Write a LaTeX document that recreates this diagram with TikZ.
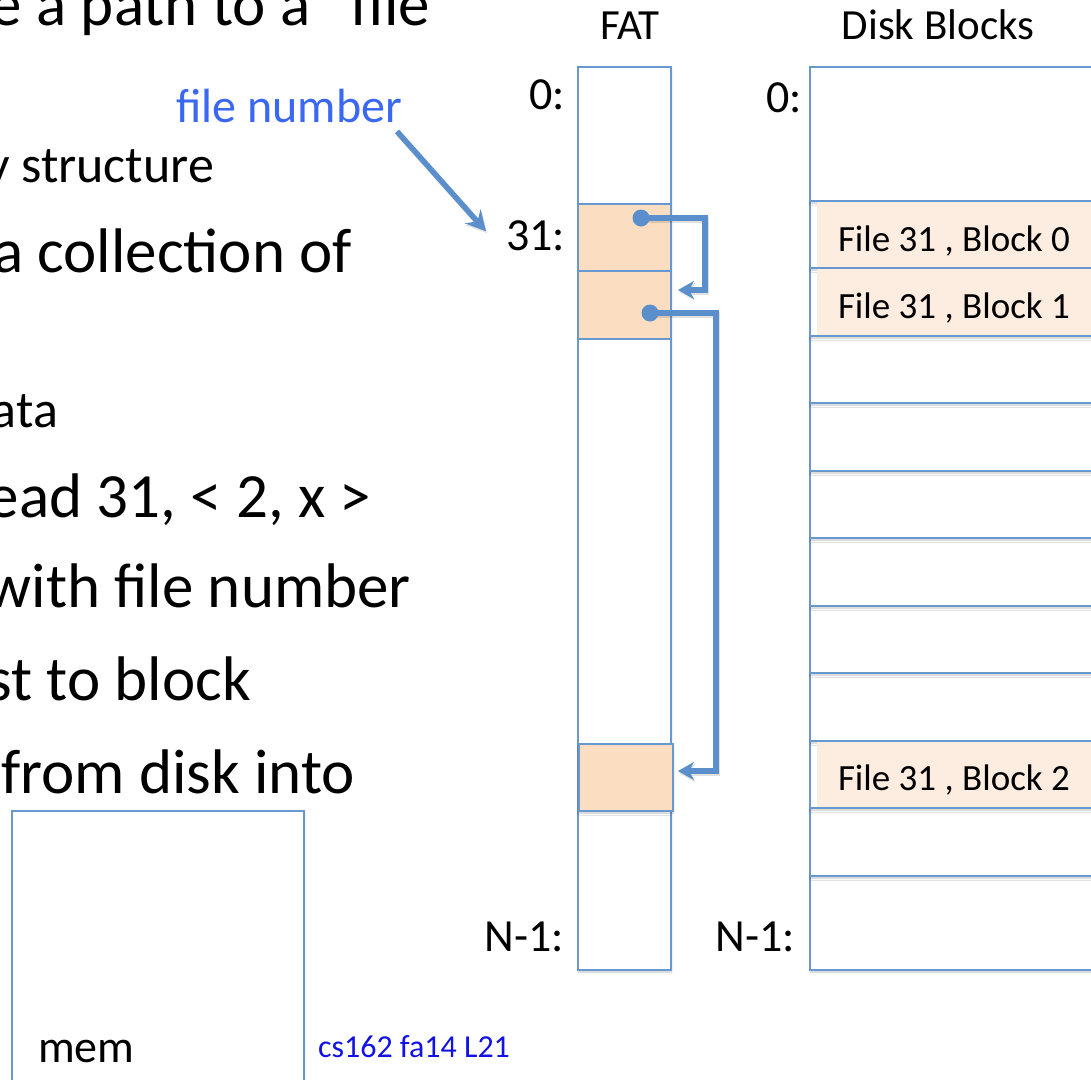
\documentclass[tikz,border=0pt]{standalone}
\usepackage{fontspec}
\setmainfont{Carlito}
\usetikzlibrary{arrows.meta,shadows.blur}

\definecolor{edge}{RGB}{104,152,208}
\definecolor{link}{RGB}{90,143,203}
\definecolor{fatfill}{RGB}{251,222,193}
\definecolor{blkfill}{RGB}{253,236,224}
\definecolor{tagblue}{RGB}{59,104,242}
\definecolor{noteblue}{RGB}{18,18,228}

\newcommand{\sizeA}{\fontsize{63}{70}\selectfont}
\newcommand{\sizeB}{\fontsize{52}{60}\selectfont}
\newcommand{\sizeM}{\fontsize{46}{52}\selectfont}
\newcommand{\sizeT}{\fontsize{48}{54}\selectfont}
\newcommand{\sizeC}{\fontsize{43}{48}\selectfont}
\newcommand{\sizeL}{\fontsize{46}{52}\selectfont}
\newcommand{\sizeD}{\fontsize{37}{42}\selectfont}
\newcommand{\sizeE}{\fontsize{32}{36}\selectfont}

\begin{document}
\begin{tikzpicture}[x=1pt,y=-1pt,
  cell/.style={draw=edge,line width=1.6pt,inner sep=0pt,outer sep=0pt,anchor=north west},
  soft/.style={blur shadow={shadow xshift=0.5pt,shadow yshift=-2pt,shadow blur radius=2pt,shadow opacity=22}},
  link/.style={draw=link,line width=5.5pt,line join=miter,-{Stealth[length=16pt,width=18pt,inset=5pt]}},
  linkshade/.style={link,draw=black,opacity=0.12,transform canvas={xshift=1pt,yshift=-2pt}},
  dot/.style={circle,fill=link,inner sep=0pt,minimum size=17pt},
  txt/.style={inner sep=0pt,outer sep=0pt}]

\useasboundingbox (0,0) rectangle (1091,1079);
\clip (0,0) rectangle (1091,1079);

% bullet text on the left, running off the left edge
\node[txt,anchor=base east,font=\sizeA] (l1) at (430,25) {e a path to a “file};
\node[txt,anchor=base east,font=\sizeB] (l2) at (214,182) {y structure};
\node[txt,anchor=base east,font=\sizeA] (l3) at (352,272) {a collection of};
\node[txt,anchor=base east,font=\sizeB] (l4) at (58,427) {ata};
\node[txt,anchor=base east,font=\sizeA] (l5) at (371,517) {ead 31, < 2, x >};
\node[txt,anchor=base east,font=\sizeA] (l6) at (411,607) {with file number};
\node[txt,anchor=base east,font=\sizeA] (l7) at (251,700) {st to block};
\node[txt,anchor=base east,font=\sizeA] (l8) at (355,793) {from disk into};

% memory box
\node[cell,fill=white,soft,minimum width=292pt,minimum height=320pt] (mem) at (12,811) {};
\node[txt,anchor=base west,font=\sizeM] (memlbl) at (38,1062) {mem};
\node[txt,anchor=base west,font=\sizeE,text=noteblue] (note) at (318,1057) {cs162 fa14 L21};

% headers
\node[txt,anchor=base,font=\sizeC] (fathdr) at (630,39) {FAT};
\node[txt,anchor=base,font=\sizeC] (dskhdr) at (938,39) {Disk Blocks};

% FAT column
\node[cell,fill=white,soft,minimum width=93pt,minimum height=903pt] (fat) at (578,67) {};
\node[cell,fill=fatfill,minimum width=93pt,minimum height=67pt] (f31) at (578,204) {};
\node[cell,fill=fatfill,minimum width=93pt,minimum height=68pt] (f32) at (578,271) {};
\node[cell,fill=fatfill,soft,minimum width=94pt,minimum height=67pt] (f33) at (579,744) {};

% FAT index labels
\node[txt,anchor=base east,font=\sizeL] (fz) at (565,109) {0:};
\node[txt,anchor=base east,font=\sizeL] (f31lbl) at (565,250) {31:};
\node[txt,anchor=base east,font=\sizeL] (fn) at (564,951) {N-1:};

% disk blocks, drawn bottom-up so each shadow falls on the row below
\foreach \t/\b [count=\i] in {876/970,808/876,741/808,673/741,606/673,538/606,471/538,403/471,336/403,268/336,201/268,67/201}
  \node[cell,fill=white,soft,minimum width=320pt,minimum height={\b-\t}] (blk\i) at (810,\t) {};

% used blocks of file 31
\fill[blkfill] (817,202) rectangle (1091,267.2);
\fill[blkfill] (817,269) rectangle (1091,335.2);
\fill[blkfill] (817,742) rectangle (1091,807.2);
\node[txt,anchor=base west,font=\sizeD] (b0) at (838,251) {File 31 , Block 0};
\node[txt,anchor=base west,font=\sizeD] (b1) at (838,318) {File 31 , Block 1};
\node[txt,anchor=base west,font=\sizeD] (b2) at (838,790) {File 31 , Block 2};

% disk index labels
\node[txt,anchor=base east,font=\sizeL] (dz) at (802,112) {0:};
\node[txt,anchor=base east,font=\sizeL] (dn) at (795,951) {N-1:};

% file number pointer
\node[txt,anchor=base east,font=\sizeT,text=tagblue] (fnum) at (402,122) {file number};
\coordinate (ps) at ([xshift=-5pt,yshift=-9pt]fnum.south east);
\coordinate (pe) at ([xshift=-20pt,yshift=4pt]f31lbl.west);
\draw[linkshade,-{Stealth[length=20pt,width=21pt,inset=7pt]}] (ps) -- (pe);
\draw[link,-{Stealth[length=20pt,width=21pt,inset=7pt]}] (ps) -- (pe);

% FAT chain links: entry 31 -> 32 -> the later block
\coordinate (s31) at (641,218);
\coordinate (s32) at (650,313);
\coordinate (t32) at (678,290);
\coordinate (t33) at (678,771);
\draw[linkshade] (s31) -- ++(64,0) |- (t32);
\draw[linkshade] (s32) -- ++(66,0) |- (t33);
\draw[link] (s31) -- ++(64,0) |- (t32);
\draw[link] (s32) -- ++(66,0) |- (t33);
\node[dot] (d31) at (s31) {};
\node[dot] (d32) at (s32) {};

\end{tikzpicture}
\end{document}
